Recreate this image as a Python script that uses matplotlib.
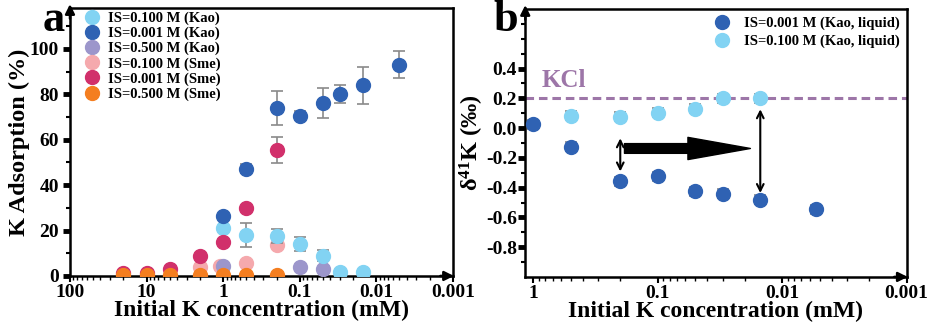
import numpy as np
import matplotlib
matplotlib.use("Agg")
import matplotlib.pyplot as plt
from matplotlib.ticker import FixedLocator, NullFormatter, LogLocator
from matplotlib.container import ErrorbarContainer

plt.rcParams['font.family'] = ['Liberation Serif', 'DejaVu Serif']
plt.rcParams['font.weight'] = 'bold'
plt.rcParams['axes.labelweight'] = 'bold'
plt.rcParams['mathtext.fontset'] = 'custom'
plt.rcParams['mathtext.rm'] = 'Liberation Serif:bold'
plt.rcParams['mathtext.it'] = 'Liberation Serif:bold'
plt.rcParams['mathtext.bf'] = 'Liberation Serif:bold'

# ---- panel a data (initial K in mM, adsorption %) ----
kao_010_x = [1, 0.5, 0.2, 0.1, 0.05, 0.03, 0.015]
kao_010_y = [21.2, 18.1, 17.6, 14.0, 9.0, 1.6, 1.6]
kao_010_e = [0, 5.2, 3.0, 3.0, 2.5, 0, 0]

kao_0001_x = [1, 0.5, 0.2, 0.1, 0.05, 0.03, 0.015, 0.005]
kao_0001_y = [26.3, 47.2, 73.9, 70.5, 76.1, 80.0, 83.9, 93.0]
kao_0001_e = [0, 2.0, 7.6, 2.0, 6.5, 4.0, 8.0, 6.0]

kao_050_x = [1, 0.1, 0.05]
kao_050_y = [4.4, 3.8, 3.0]

sme_010_x = [2, 1.1, 0.5, 0.2]
sme_010_y = [3.8, 4.5, 5.6, 13.7]

sme_0001_x = [20, 10, 5, 2, 1, 0.5, 0.2]
sme_0001_y = [1.5, 1.5, 3.0, 8.8, 15.0, 29.8, 55.5]
sme_0001_e = [0, 0, 0, 0, 0, 0, 5.6]

sme_050_x = [20, 10, 5, 2, 1, 0.5, 0.2]
sme_050_y = [0.5, 0.5, 0.5, 0.5, 0.5, 0.5, 0.5]

# ---- panel b data (delta41K, permil) ----
liq_0001_x = [1, 0.5, 0.2, 0.1, 0.05, 0.03, 0.015, 0.0054]
liq_0001_y = [0.025, -0.126, -0.357, -0.323, -0.426, -0.44, -0.48, -0.545]
liq_010_x = [0.5, 0.2, 0.1, 0.05, 0.03, 0.015]
liq_010_y = [0.083, 0.076, 0.103, 0.13, 0.2, 0.2]
kcl_value = 0.2

c_lblue = '#82d3f3'
c_dblue = '#2f62b3'
c_purple = '#9c96cb'
c_pink = '#f5a9ad'
c_mag = '#d1306b'
c_orange = '#f47e20'
c_kcl = '#9d76a8'

fig = plt.figure(figsize=(9.28, 3.22), dpi=100)
axa = fig.add_axes([0.0754, 0.143, 0.4126, 0.832])
axb = fig.add_axes([0.566, 0.140, 0.411, 0.832])

ms = 10
eb = dict(ecolor='#8a8a8a', elinewidth=1.2, capsize=4, capthick=1.2)


def style_axes(ax):
    for s in ax.spines.values():
        s.set_linewidth(1.8)
    ax.tick_params(axis='both', which='major', direction='out', labelsize=14, pad=1)
    ax.tick_params(axis='x', which='major', pad=2)
    ax.tick_params(axis='y', which='major', width=3.5, length=5)
    ax.tick_params(axis='y', which='minor', width=1.5, length=3)
    ax.tick_params(axis='x', which='major', width=1.5, length=4)
    ax.tick_params(axis='x', which='minor', width=1, length=3)
    # axis arrows
    ax.annotate('', xy=(0, 1.025), xytext=(0, 0.95), xycoords='axes fraction',
                arrowprops=dict(arrowstyle='-|>', color='black', lw=1.8, mutation_scale=14))
    ax.annotate('', xy=(1.01, 0), xytext=(0.96, 0), xycoords='axes fraction',
                arrowprops=dict(arrowstyle='-|>', color='black', lw=1.8, mutation_scale=14))


def marker_handles(ax):
    hs, ls = ax.get_legend_handles_labels()
    hs = [h[0] if isinstance(h, ErrorbarContainer) else h for h in hs]
    return dict(zip(ls, hs))


# ---------- panel a ----------
axa.errorbar(kao_010_x, kao_010_y, yerr=kao_010_e, fmt='o', color=c_lblue, ms=ms, zorder=3,
             label='IS=0.100 M (Kao)', **eb)
axa.errorbar(kao_0001_x, kao_0001_y, yerr=kao_0001_e, fmt='o', color=c_dblue, ms=ms, zorder=3,
             label='IS=0.001 M (Kao)', **eb)
axa.plot(kao_050_x, kao_050_y, 'o', color=c_purple, ms=ms, zorder=3, label='IS=0.500 M (Kao)')
axa.plot(sme_010_x, sme_010_y, 'o', color=c_pink, ms=ms, zorder=2, label='IS=0.100 M (Sme)')
axa.errorbar(sme_0001_x, sme_0001_y, yerr=sme_0001_e, fmt='o', color=c_mag, ms=ms, zorder=3,
             label='IS=0.001 M (Sme)', **eb)
axa.plot(sme_050_x, sme_050_y, 'o', color=c_orange, ms=ms, zorder=4, label='IS=0.500 M (Sme)')

axa.set_xscale('log')
axa.set_xlim(100, 0.001)
axa.set_ylim(0, 118)
axa.set_xticks([100, 10, 1, 0.1, 0.01, 0.001])
axa.set_xticklabels(['100', '10', '1', '0.1', '0.01', '0.001'])
axa.xaxis.set_minor_locator(LogLocator(base=10, subs=np.arange(2, 10)))
axa.xaxis.set_minor_formatter(NullFormatter())
axa.set_yticks([0, 20, 40, 60, 80, 100])
axa.yaxis.set_minor_locator(FixedLocator([10, 30, 50, 70, 90, 110]))
style_axes(axa)
axa.tick_params(axis='y', which='major', pad=3)
axa.set_xlabel('Initial K concentration (mM)', fontsize=17, labelpad=-1)
axa.set_ylabel('K Adsorption (%)', fontsize=17.5, labelpad=0)
order_a = ['IS=0.100 M (Kao)', 'IS=0.001 M (Kao)', 'IS=0.500 M (Kao)',
           'IS=0.100 M (Sme)', 'IS=0.001 M (Sme)', 'IS=0.500 M (Sme)']
ha = marker_handles(axa)
axa.legend([ha[k] for k in order_a], order_a, loc='upper left', frameon=False,
           fontsize=10.5, handletextpad=0.1, labelspacing=0.12, borderaxespad=0.1,
           bbox_to_anchor=(0.0, 1.015))
fig.text(0.046, 0.905, 'a', fontsize=32, fontweight='bold', ha='left', va='baseline')

# ---------- panel b ----------
eb_b = dict(ecolor='#8a8a8a', elinewidth=1.0, capsize=4, capthick=1.2)
axb.axhline(kcl_value, color=c_kcl, lw=2.2, ls=(0, (2.8, 1.6)), zorder=1)
axb.errorbar(liq_0001_x, liq_0001_y, yerr=0.03, fmt='o', color=c_dblue, ms=ms, zorder=3,
             label='IS=0.001 M (Kao, liquid)', **eb_b)
axb.errorbar(liq_010_x, liq_010_y, yerr=0.03, fmt='o', color=c_lblue, ms=ms, zorder=3,
             label='IS=0.100 M (Kao, liquid)', **eb_b)
axb.text(0.85, 0.32, 'KCl', color=c_kcl, fontsize=18, fontweight='bold', ha='left', va='center')

# arrows
axb.annotate('', xy=(0.2, -0.31), xytext=(0.2, -0.05),
             arrowprops=dict(arrowstyle='<->', color='black', lw=1.5, mutation_scale=12))
axb.annotate('', xy=(0.015, -0.455), xytext=(0.015, 0.145),
             arrowprops=dict(arrowstyle='<->', color='black', lw=1.5, mutation_scale=12))
axb.annotate('', xy=(0.018, -0.137), xytext=(0.185, -0.137),
             arrowprops=dict(facecolor='black', edgecolor='black', width=7,
                             headwidth=16, headlength=45, shrink=0))

axb.set_xscale('log')
axb.set_xlim(1.16, 0.001)
axb.set_ylim(-1.0, 0.8)
axb.set_xticks([1, 0.1, 0.01, 0.001])
axb.set_xticklabels(['1', '0.1', '0.01', '0.001'])
axb.xaxis.set_minor_locator(LogLocator(base=10, subs=np.arange(2, 10)))
axb.xaxis.set_minor_formatter(NullFormatter())
axb.set_yticks([0.4, 0.2, 0.0, -0.2, -0.4, -0.6, -0.8])
axb.set_yticklabels(['0.4', '0.2', '0.0', '-0.2', '-0.4', '-0.6', '-0.8'])
axb.yaxis.set_minor_locator(FixedLocator([0.7, 0.6, 0.5, 0.3, 0.1, -0.1, -0.3, -0.5, -0.7, -0.9]))
style_axes(axb)
axb.set_xlabel('Initial K concentration (mM)', fontsize=17, labelpad=-1)
axb.set_ylabel('δ$^{41}$K (‰)', fontsize=17.5, labelpad=0)
hb = marker_handles(axb)
order_b = ['IS=0.001 M (Kao, liquid)', 'IS=0.100 M (Kao, liquid)']
axb.legend([hb[k] for k in order_b], order_b, loc='upper right', frameon=False,
           fontsize=10.5, handletextpad=0.5, labelspacing=0.35, borderaxespad=0.1)
fig.text(0.532, 0.905, 'b', fontsize=32, fontweight='bold', ha='left', va='baseline')

fig.savefig('out.png', dpi=100)
